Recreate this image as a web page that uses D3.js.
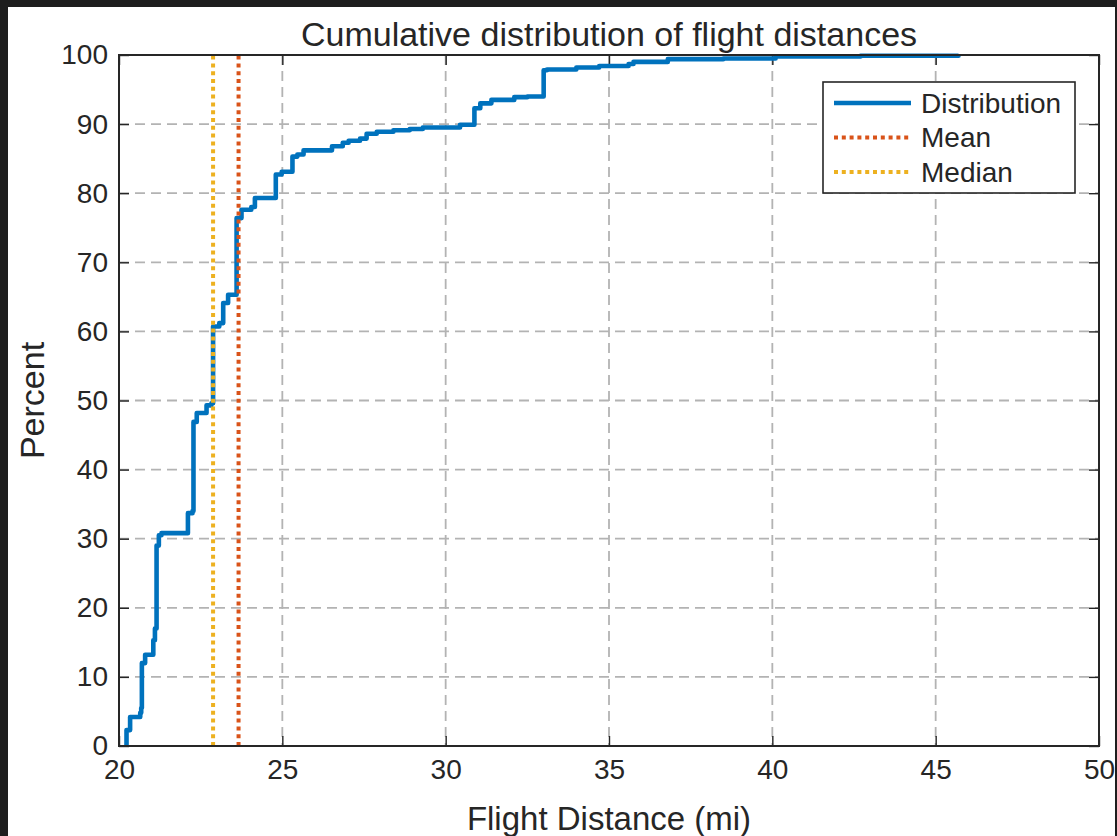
<!DOCTYPE html>
<html>
<head>
<meta charset="utf-8">
<script src="https://cdn.jsdelivr.net/npm/d3@7"></script>
<style>
        html, body { margin: 0; padding: 0; background: #1e1e1e; }
        svg { display: block; }
        text { font-family: "Liberation Sans", Arial, sans-serif; fill: #262626; }
</style>
</head>
<body>
<svg id="chart" width="1117" height="836"></svg>
<script>
// ECDF of flight distances: step at distance -> percent
var distances = [20.18, 20.23, 20.34, 20.65, 20.68, 20.70, 20.80, 21.05, 21.10, 21.15,
        21.22, 21.30, 22.11, 22.25, 22.28, 22.38, 22.68, 22.83, 22.88, 23.07,
        23.19, 23.34, 23.60, 23.75, 24.05, 24.16, 24.80, 24.98, 25.31, 25.46,
        25.65, 26.52, 26.85, 27.03, 27.38, 27.58, 27.89, 28.40, 28.90, 29.30,
        30.44, 30.88, 31.06, 31.40, 32.10, 32.50, 33.00, 33.10, 34.00, 34.70,
        35.60, 35.75, 36.80, 38.50, 40.10, 42.70, 45.70]
var percents = [0, 2.3, 4.2, 4.8, 5.5, 12.0, 13.2, 15.3, 17.0, 29.0,
        30.5, 30.8, 33.7, 34.0, 46.9, 48.2, 49.3, 49.6, 60.7, 61.2,
        64.1, 65.3, 76.4, 77.6, 78.0, 79.3, 82.7, 83.1, 85.3, 85.6,
        86.2, 86.8, 87.3, 87.6, 87.9, 88.6, 88.9, 89.1, 89.3, 89.5,
        89.9, 92.3, 93.0, 93.5, 93.9, 94.0, 97.8, 97.9, 98.2, 98.4,
        98.7, 99.0, 99.4, 99.5, 99.8, 99.9, 100]

var meanDistance = 23.66
var medianDistance = 22.88

var xTicks = [20, 25, 30, 35, 40, 45, 50]
var yTicks = [0, 10, 20, 30, 40, 50, 60, 70, 80, 90, 100]
var legendLabels = ['Distribution', 'Mean', 'Median']

var colors = { dist: '#0072bd', mean: '#d95319', median: '#edb120', axis: '#262626', grid: '#b3b3b3' }

var svg = d3.select('#chart')

// white figure panel inside the dark window frame
svg.append('rect')
        .attr('x', 8).attr('y', 7)
        .attr('width', 1107).attr('height', 829)
        .attr('fill', '#fff')

var box = { left: 119, top: 55, right: 1099, bottom: 746 }

var x = d3.scaleLinear().domain([20, 50]).range([box.left, box.right])
var y = d3.scaleLinear().domain([0, 100]).range([box.bottom, box.top])

// Grid
var grid = svg.append('g')
        .attr('stroke', colors.grid)
        .attr('stroke-width', 1.8)
        .attr('stroke-dasharray', '10,6')

grid.selectAll('line.gx')
        .data(xTicks.slice(1, -1))
        .enter().append('line')
        .attr('x1', function (d) { return x(d) }).attr('x2', function (d) { return x(d) })
        .attr('y1', box.top).attr('y2', box.bottom)

grid.selectAll('line.gy')
        .data(yTicks.slice(1, -1))
        .enter().append('line')
        .attr('y1', function (d) { return y(d) }).attr('y2', function (d) { return y(d) })
        .attr('x1', box.left).attr('x2', box.right)

// Axes: inward ticks, labels outside
var tickLen = 10

var xAxis = d3.axisBottom(x).tickValues(xTicks).tickSize(-tickLen).tickPadding(13).tickFormat(d3.format('d'))
var yAxis = d3.axisLeft(y).tickValues(yTicks).tickSize(-tickLen).tickPadding(11).tickFormat(d3.format('d'))

svg.append('g').attr('transform', 'translate(0,' + box.bottom + ')').call(xAxis)
svg.append('g').attr('transform', 'translate(' + box.left + ',0)').call(yAxis)

// mirrored ticks on top and right
svg.append('g').attr('transform', 'translate(0,' + box.top + ')')
        .call(d3.axisTop(x).tickValues(xTicks).tickSize(-tickLen).tickFormat(''))
svg.append('g').attr('transform', 'translate(' + box.right + ',0)')
        .call(d3.axisRight(y).tickValues(yTicks).tickSize(-tickLen).tickFormat(''))

svg.selectAll('.domain').remove()
svg.selectAll('.tick line').attr('stroke', colors.axis).attr('stroke-width', 1.4)
svg.selectAll('.tick text')
        .style('font-size', '28px')
        .attr('fill', colors.axis)

// Lines
var line = d3.line()
        .x(function (d) { return x(d[0]) })
        .y(function (d) { return y(d[1]) })
        .curve(d3.curveStepAfter)

var clip = svg.append('clipPath').attr('id', 'plot-clip')
clip.append('rect')
        .attr('x', box.left).attr('y', box.top - 3)
        .attr('width', box.right - box.left).attr('height', box.bottom - box.top + 3)

var plot = svg.append('g').attr('clip-path', 'url(#plot-clip)')

plot.append('path')
        .datum(d3.zip(distances, percents))
        .attr('d', line)
        .attr('fill', 'none')
        .attr('stroke', colors.dist)
        .attr('stroke-width', 4.6)
        .attr('stroke-linejoin', 'round')

var markers = [
        { value: medianDistance, color: colors.median },
        { value: meanDistance, color: colors.mean }
]

plot.selectAll('line.marker')
        .data(markers)
        .enter().append('line')
        .attr('x1', function (d) { return x(d.value) }).attr('x2', function (d) { return x(d.value) })
        .attr('y1', box.bottom).attr('y2', box.top)
        .attr('stroke', function (d) { return d.color })
        .attr('stroke-width', 4)
        .attr('stroke-dasharray', '4,3.8')

// Axes box
svg.append('rect')
        .attr('x', box.left).attr('y', box.top)
        .attr('width', box.right - box.left).attr('height', box.bottom - box.top)
        .attr('fill', 'none')
        .attr('stroke', colors.axis)
        .attr('stroke-width', 2)

// Title and axis labels
svg.append('text')
        .attr('x', (box.left + box.right) / 2).attr('y', 46)
        .attr('text-anchor', 'middle')
        .style('font-size', '34px')
        .text('Cumulative distribution of flight distances')

svg.append('text')
        .attr('x', (box.left + box.right) / 2).attr('y', 830)
        .attr('text-anchor', 'middle')
        .style('font-size', '33px')
        .text('Flight Distance (mi)')

svg.append('text')
        .attr('transform', 'translate(44,' + (box.top + box.bottom) / 2 + ') rotate(-90)')
        .attr('text-anchor', 'middle')
        .style('font-size', '34px')
        .text('Percent')

// Legend
var legend = svg.append('g').attr('transform', 'translate(823,82)')

legend.append('rect')
        .attr('width', 252).attr('height', 111)
        .attr('fill', '#fff')
        .attr('stroke', colors.axis)
        .attr('stroke-width', 1.6)

var legendStyles = [
        { color: colors.dist, dash: null, width: 4.6 },
        { color: colors.mean, dash: '4,3.8', width: 4 },
        { color: colors.median, dash: '4,3.8', width: 4 }
]

var rows = legend.selectAll('g.row')
        .data(legendLabels)
        .enter().append('g')
        .attr('transform', function (d, i) { return 'translate(0,' + (21 + i * 34.5) + ')' })

rows.append('line')
        .attr('x1', 11).attr('x2', 88)
        .attr('stroke', function (d, i) { return legendStyles[i].color })
        .attr('stroke-width', function (d, i) { return legendStyles[i].width })
        .attr('stroke-dasharray', function (d, i) { return legendStyles[i].dash })

rows.append('text')
        .attr('x', 98).attr('dy', '0.35em')
        .style('font-size', '28px')
        .text(function (d) { return d })
</script>
</body>
</html>
